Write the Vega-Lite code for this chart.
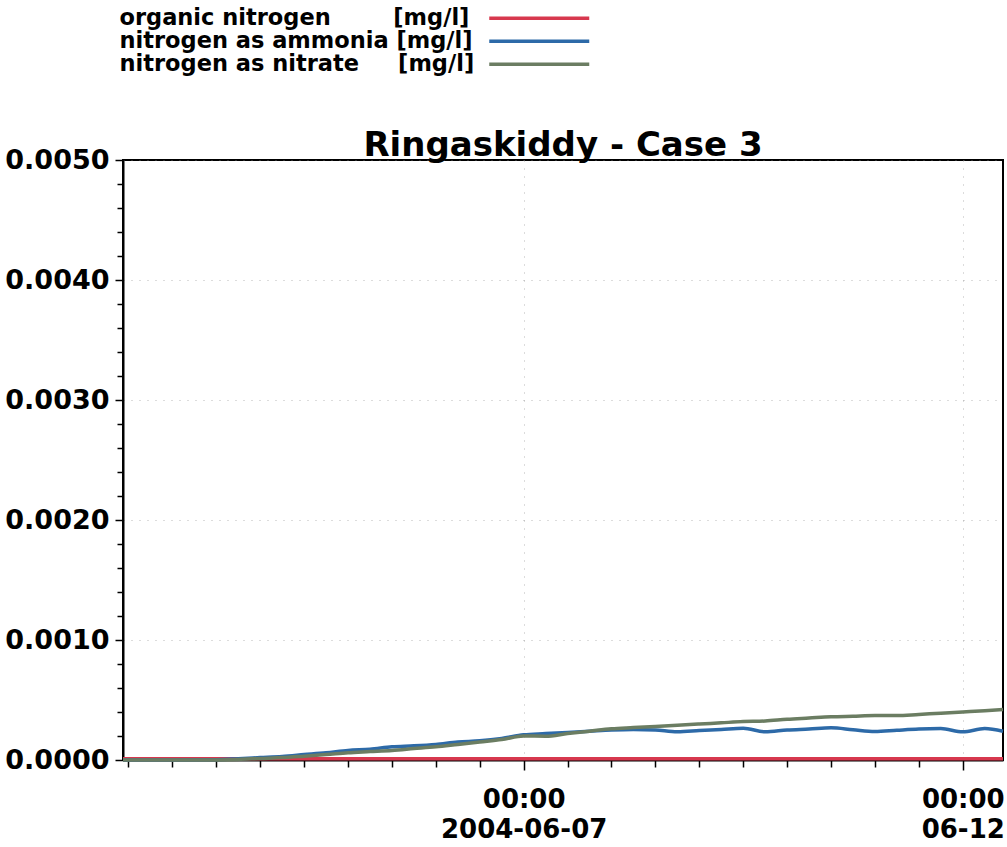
{
  "$schema": "https://vega.github.io/schema/vega-lite/v6.json",
  "width": 880,
  "height": 600,
  "autosize": {"type": "none"},
  "padding": {"left": 123, "top": 160, "right": 4, "bottom": 87},
  "background": "white",
  "title": {"text": "Ringaskiddy - Case 3", "anchor": "middle", "fontSize": 34, "font": "DejaVu Sans", "fontWeight": "bold", "color": "black", "offset": 6, "baseline": "alphabetic", "dy": 189},
  "data": {"values": [
    {"t": "2004-06-02T10:30:00", "s": "organic", "v": 0.00001},
    {"t": "2004-06-12T11:00:00", "s": "organic", "v": 0.00001},
    {"t": "2004-06-02T10:30:00", "s": "ammonia", "v": 0},
    {"t": "2004-06-03T00:00:00", "s": "ammonia", "v": 0},
    {"t": "2004-06-03T12:00:00", "s": "ammonia", "v": 0.000002},
    {"t": "2004-06-03T18:00:00", "s": "ammonia", "v": 0.00001},
    {"t": "2004-06-04T00:00:00", "s": "ammonia", "v": 0.00002},
    {"t": "2004-06-04T06:00:00", "s": "ammonia", "v": 0.00003},
    {"t": "2004-06-04T12:00:00", "s": "ammonia", "v": 0.000045},
    {"t": "2004-06-04T18:00:00", "s": "ammonia", "v": 0.00006},
    {"t": "2004-06-05T00:00:00", "s": "ammonia", "v": 0.00008},
    {"t": "2004-06-05T06:00:00", "s": "ammonia", "v": 0.00009},
    {"t": "2004-06-05T12:00:00", "s": "ammonia", "v": 0.00011},
    {"t": "2004-06-05T18:00:00", "s": "ammonia", "v": 0.000118},
    {"t": "2004-06-06T00:00:00", "s": "ammonia", "v": 0.00013},
    {"t": "2004-06-06T06:00:00", "s": "ammonia", "v": 0.00015},
    {"t": "2004-06-06T12:00:00", "s": "ammonia", "v": 0.00016},
    {"t": "2004-06-06T18:00:00", "s": "ammonia", "v": 0.00018},
    {"t": "2004-06-07T00:00:00", "s": "ammonia", "v": 0.00021},
    {"t": "2004-06-07T06:00:00", "s": "ammonia", "v": 0.00022},
    {"t": "2004-06-07T12:00:00", "s": "ammonia", "v": 0.00023},
    {"t": "2004-06-07T18:00:00", "s": "ammonia", "v": 0.00024},
    {"t": "2004-06-08T00:00:00", "s": "ammonia", "v": 0.00025},
    {"t": "2004-06-08T06:00:00", "s": "ammonia", "v": 0.000255},
    {"t": "2004-06-08T12:00:00", "s": "ammonia", "v": 0.00025},
    {"t": "2004-06-08T18:00:00", "s": "ammonia", "v": 0.000235},
    {"t": "2004-06-09T00:00:00", "s": "ammonia", "v": 0.000245},
    {"t": "2004-06-09T06:00:00", "s": "ammonia", "v": 0.000255},
    {"t": "2004-06-09T12:00:00", "s": "ammonia", "v": 0.000265},
    {"t": "2004-06-09T18:00:00", "s": "ammonia", "v": 0.000235},
    {"t": "2004-06-10T00:00:00", "s": "ammonia", "v": 0.00025},
    {"t": "2004-06-10T06:00:00", "s": "ammonia", "v": 0.000258},
    {"t": "2004-06-10T12:00:00", "s": "ammonia", "v": 0.000268},
    {"t": "2004-06-10T18:00:00", "s": "ammonia", "v": 0.000252},
    {"t": "2004-06-11T00:00:00", "s": "ammonia", "v": 0.000237},
    {"t": "2004-06-11T06:00:00", "s": "ammonia", "v": 0.000248},
    {"t": "2004-06-11T12:00:00", "s": "ammonia", "v": 0.000258},
    {"t": "2004-06-11T18:00:00", "s": "ammonia", "v": 0.000262},
    {"t": "2004-06-12T00:00:00", "s": "ammonia", "v": 0.000235},
    {"t": "2004-06-12T06:00:00", "s": "ammonia", "v": 0.000262},
    {"t": "2004-06-12T11:00:00", "s": "ammonia", "v": 0.00024},
    {"t": "2004-06-02T10:30:00", "s": "nitrate", "v": 0},
    {"t": "2004-06-03T00:00:00", "s": "nitrate", "v": 0},
    {"t": "2004-06-03T12:00:00", "s": "nitrate", "v": 0.000001},
    {"t": "2004-06-03T18:00:00", "s": "nitrate", "v": 0.000005},
    {"t": "2004-06-04T00:00:00", "s": "nitrate", "v": 0.000013},
    {"t": "2004-06-04T06:00:00", "s": "nitrate", "v": 0.00002},
    {"t": "2004-06-04T12:00:00", "s": "nitrate", "v": 0.000032},
    {"t": "2004-06-04T18:00:00", "s": "nitrate", "v": 0.000045},
    {"t": "2004-06-05T00:00:00", "s": "nitrate", "v": 0.00006},
    {"t": "2004-06-05T06:00:00", "s": "nitrate", "v": 0.00007},
    {"t": "2004-06-05T12:00:00", "s": "nitrate", "v": 0.00008},
    {"t": "2004-06-05T18:00:00", "s": "nitrate", "v": 0.000095},
    {"t": "2004-06-06T00:00:00", "s": "nitrate", "v": 0.00011},
    {"t": "2004-06-06T06:00:00", "s": "nitrate", "v": 0.00013},
    {"t": "2004-06-06T12:00:00", "s": "nitrate", "v": 0.00015},
    {"t": "2004-06-06T18:00:00", "s": "nitrate", "v": 0.00017},
    {"t": "2004-06-07T00:00:00", "s": "nitrate", "v": 0.0002},
    {"t": "2004-06-07T06:00:00", "s": "nitrate", "v": 0.000198},
    {"t": "2004-06-07T12:00:00", "s": "nitrate", "v": 0.00022},
    {"t": "2004-06-07T18:00:00", "s": "nitrate", "v": 0.00024},
    {"t": "2004-06-08T00:00:00", "s": "nitrate", "v": 0.00026},
    {"t": "2004-06-08T06:00:00", "s": "nitrate", "v": 0.00027},
    {"t": "2004-06-08T12:00:00", "s": "nitrate", "v": 0.00028},
    {"t": "2004-06-08T18:00:00", "s": "nitrate", "v": 0.00029},
    {"t": "2004-06-09T00:00:00", "s": "nitrate", "v": 0.0003},
    {"t": "2004-06-09T06:00:00", "s": "nitrate", "v": 0.00031},
    {"t": "2004-06-09T12:00:00", "s": "nitrate", "v": 0.00032},
    {"t": "2004-06-09T18:00:00", "s": "nitrate", "v": 0.000325},
    {"t": "2004-06-10T00:00:00", "s": "nitrate", "v": 0.00034},
    {"t": "2004-06-10T06:00:00", "s": "nitrate", "v": 0.00035},
    {"t": "2004-06-10T12:00:00", "s": "nitrate", "v": 0.00036},
    {"t": "2004-06-10T18:00:00", "s": "nitrate", "v": 0.000365},
    {"t": "2004-06-11T00:00:00", "s": "nitrate", "v": 0.00037},
    {"t": "2004-06-11T06:00:00", "s": "nitrate", "v": 0.00037},
    {"t": "2004-06-11T12:00:00", "s": "nitrate", "v": 0.00038},
    {"t": "2004-06-11T18:00:00", "s": "nitrate", "v": 0.00039},
    {"t": "2004-06-12T00:00:00", "s": "nitrate", "v": 0.0004},
    {"t": "2004-06-12T06:00:00", "s": "nitrate", "v": 0.00041},
    {"t": "2004-06-12T11:00:00", "s": "nitrate", "v": 0.00042}
  ]},
  "mark": {"type": "line", "strokeWidth": 3.5, "interpolate": "monotone"},
  "encoding": {
    "x": {"field": "t", "type": "temporal",
          "scale": {"domain": [{"year": 2004, "month": 6, "date": 2, "hours": 10, "minutes": 30}, {"year": 2004, "month": 6, "date": 12, "hours": 11}]},
          "axis": {"title": null, "grid": true,
                   "values": [
                     {"year": 2004, "month": 6, "date": 2, "hours": 12}, {"year": 2004, "month": 6, "date": 3, "hours": 0},
                     {"year": 2004, "month": 6, "date": 3, "hours": 12}, {"year": 2004, "month": 6, "date": 4, "hours": 0},
                     {"year": 2004, "month": 6, "date": 4, "hours": 12}, {"year": 2004, "month": 6, "date": 5, "hours": 0},
                     {"year": 2004, "month": 6, "date": 5, "hours": 12}, {"year": 2004, "month": 6, "date": 6, "hours": 0},
                     {"year": 2004, "month": 6, "date": 6, "hours": 12}, {"year": 2004, "month": 6, "date": 7, "hours": 0},
                     {"year": 2004, "month": 6, "date": 7, "hours": 12}, {"year": 2004, "month": 6, "date": 8, "hours": 0},
                     {"year": 2004, "month": 6, "date": 8, "hours": 12}, {"year": 2004, "month": 6, "date": 9, "hours": 0},
                     {"year": 2004, "month": 6, "date": 9, "hours": 12}, {"year": 2004, "month": 6, "date": 10, "hours": 0},
                     {"year": 2004, "month": 6, "date": 10, "hours": 12}, {"year": 2004, "month": 6, "date": 11, "hours": 0},
                     {"year": 2004, "month": 6, "date": 11, "hours": 12}, {"year": 2004, "month": 6, "date": 12, "hours": 0}],
                   "tickSize": {"condition": {"test": "hours(datum.value) == 0 && (date(datum.value) == 7 || date(datum.value) == 12)", "value": 10}, "value": 7},
                   "gridOpacity": {"condition": {"test": "hours(datum.value) == 0 && (date(datum.value) == 7 || date(datum.value) == 12)", "value": 0.6}, "value": 0},
                   "labelPadding": 16, "labelFontSize": 26, "labelLineHeight": 30,
                   "labelExpr": "hours(datum.value) == 0 && date(datum.value) == 7 ? ['00:00', '2004-06-07'] : hours(datum.value) == 0 && date(datum.value) == 12 ? ['00:00', '06-12'] : ''",
                   "labelOverlap": false, "labelBound": false, "labelFlush": false}},
    "y": {"field": "v", "type": "quantitative",
          "scale": {"domain": [0, 0.005], "nice": false, "zero": true},
          "axis": {"title": null, "grid": true, "tickSize": {"condition": {"test": "round(datum.value * 10000) % 10 == 0", "value": 8}, "value": 6},
                   "gridOpacity": {"condition": {"test": "round(datum.value * 10000) % 10 == 0", "value": 0.6}, "value": 0},
                   "labelPadding": 6,
                   "values": [0, 0.0002, 0.0004, 0.0006, 0.0008, 0.001, 0.0012, 0.0014, 0.0016, 0.0018, 0.002, 0.0022, 0.0024, 0.0026, 0.0028, 0.003, 0.0032, 0.0034, 0.0036, 0.0038, 0.004, 0.0042, 0.0044, 0.0046, 0.0048, 0.005],
                   "labelExpr": "round(datum.value * 10000) % 10 == 0 ? format(datum.value, '.4f') : ''",
                   "labelOverlap": false}},
    "color": {"field": "s", "type": "nominal",
              "scale": {"domain": ["organic", "ammonia", "nitrate"], "range": ["#d7384e", "#2d6aa8", "#6b7d62"]},
              "legend": {"title": null, "orient": "none", "legendX": 405, "legendY": -153, "direction": "vertical",
                         "symbolType": "M-10,0H10", "symbolSize": 100, "symbolStrokeWidth": 3.5, "symbolOffset": 0,
                         "labelOffset": -431, "labelFontSize": 22.5, "labelFontWeight": "bold", "labelFont": "DejaVu Sans", "labelColor": "black",
                         "labelLimit": 600, "padding": 0, "rowPadding": -3,
                         "labelExpr": "datum.value == 'organic' ? 'organic nitrogen\u00a0\u00a0\u00a0\u00a0\u00a0\u00a0\u00a0\u00a0[mg/l]' : datum.value == 'ammonia' ? 'nitrogen as ammonia\u00a0[mg/l]' : 'nitrogen as nitrate\u00a0\u00a0\u00a0\u00a0\u00a0[mg/l]'"}}
  },
  "config": {
    "font": "DejaVu Sans",
    "view": {"stroke": "black", "strokeWidth": 2},
    "axis": {"labelFont": "DejaVu Sans", "labelFontWeight": "bold", "labelFontSize": 27, "labelColor": "black",
             "tickColor": "black", "tickWidth": 1.5, "domainColor": "black", "domainWidth": 2,
             "gridColor": "#888888", "gridDash": [1, 7], "gridWidth": 1}
  }
}
